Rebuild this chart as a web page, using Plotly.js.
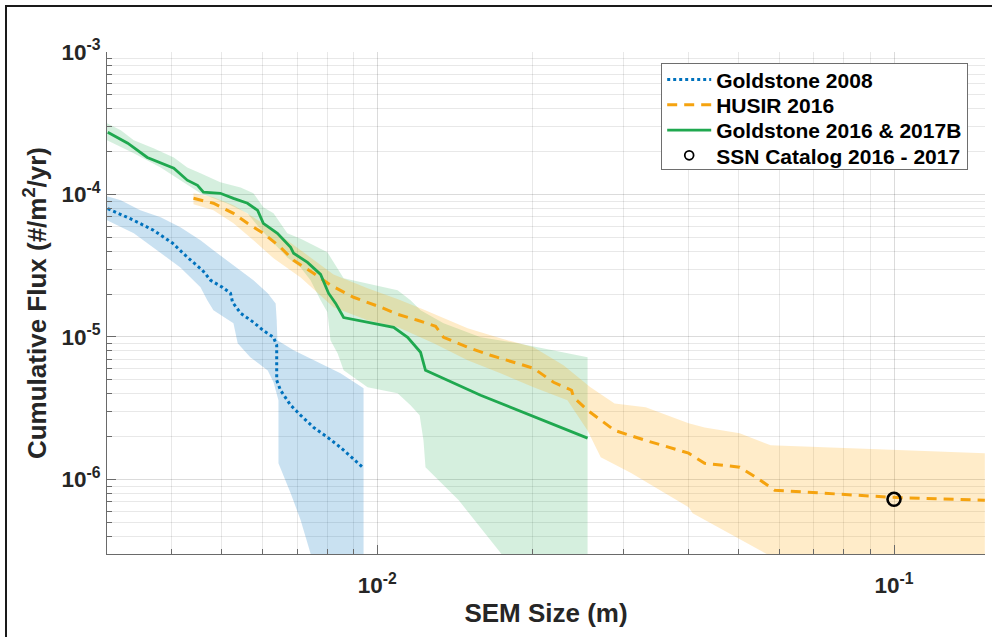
<!DOCTYPE html>
<html>
<head>
<meta charset="utf-8">
<script src="https://cdn.plot.ly/plotly-3.0.1.min.js"></script>
<style>
  html, body { margin: 0; padding: 0; background: #fff; }
  #wrap { position: relative; width: 992px; height: 637px; overflow: hidden; }
  #chart { width: 992px; height: 637px; }
  #frame { position: absolute; left: 5px; top: 5px; width: 1100px; height: 800px;
           border-left: 2px solid #1a1a1a; border-top: 2px solid #1a1a1a; pointer-events: none; }
</style>
</head>
<body>
<div id="wrap"><div id="chart"></div><div id="frame"></div></div>
<script>
// ---------- Data ----------
const seriesNames = ['Goldstone 2008', 'HUSIR 2016', 'Goldstone 2016 & 2017B', 'SSN Catalog 2016 - 2017'];

// Goldstone 2008 (blue dotted)
const gold08X = [0.00301,0.00338,0.00369,0.00402,0.00429,0.00459,0.00476,0.00502,0.00520,0.00525,0.00544,0.00576,0.00602,0.00630,0.00639,0.00639,0.00650,0.00680,0.00711,0.00753,0.00801,0.00849,0.00900,0.00941];
const gold08Y = [7.96e-5,6.59e-5,5.61e-5,4.55e-5,3.63e-5,2.94e-5,2.50e-5,2.23e-5,2.03e-5,1.75e-5,1.47e-5,1.27e-5,1.11e-5,9.95e-6,8.75e-6,4.97e-6,4.23e-6,3.32e-6,2.82e-6,2.32e-6,1.98e-6,1.68e-6,1.39e-6,1.20e-6];
const gold08UpX = [0.00300,0.00319,0.00348,0.00381,0.00416,0.00455,0.00482,0.00520,0.00576,0.00614,0.00636,0.00639,0.00641,0.00689,0.00777,0.00849,0.00941];
const gold08UpY = [9.71e-5,9.11e-5,7.74e-5,6.92e-5,5.89e-5,4.77e-5,4.06e-5,3.29e-5,2.50e-5,2.03e-5,1.72e-5,1.31e-5,9.48e-6,8.07e-6,6.54e-6,5.56e-6,4.36e-6];
const gold08LoX = [0.00300,0.00338,0.00381,0.00416,0.00455,0.00469,0.00482,0.00527,0.00537,0.00568,0.00614,0.00630,0.00644,0.00644,0.00680,0.00711,0.00743,0.00812,0.00941];
const gold08LoY = [6.59e-5,5.34e-5,3.87e-5,3.08e-5,2.23e-5,1.81e-5,1.54e-5,1.25e-5,9.03e-6,7.20e-6,5.83e-6,4.81e-6,3.60e-6,1.30e-6,8.00e-7,5.18e-7,3.03e-7,1.15e-7,2.3e-8];

// HUSIR 2016 (orange dashed)
const husirX = [0.00441,0.00482,0.00527,0.00561,0.00602,0.00650,0.00689,0.00753,0.00812,0.00900,0.01015,0.01097,0.01197,0.01297,0.01344,0.01496,0.01657,0.01836,0.02007,0.02194,0.02377,0.02399,0.02553,0.02880,0.03307,0.04005,0.04301,0.05028,0.05400,0.05877,0.06871,0.09899,0.1499];
const husirY = [9.40e-5,8.68e-5,7.38e-5,6.28e-5,5.34e-5,4.26e-5,3.45e-5,2.80e-5,2.31e-5,1.90e-5,1.62e-5,1.44e-5,1.31e-5,1.19e-5,9.95e-6,8.47e-6,7.44e-6,6.65e-6,6.03e-6,4.81e-6,4.23e-6,3.77e-6,3.06e-6,2.21e-6,1.88e-6,1.53e-6,1.30e-6,1.22e-6,1.04e-6,8.40e-7,8.13e-7,7.50e-7,7.14e-7];
const husirUpX = [0.00441,0.00482,0.00527,0.00576,0.00630,0.00711,0.00823,0.00958,0.01097,0.01229,0.01344,0.01496,0.01732,0.02007,0.02293,0.02586,0.02880,0.03307,0.04005,0.04301,0.05028,0.05771,0.1499];
const husirUpY = [1.02e-4,9.56e-5,8.40e-5,6.92e-5,5.61e-5,4.06e-5,2.75e-5,2.20e-5,1.84e-5,1.56e-5,1.35e-5,1.15e-5,9.79e-6,8.47e-6,6.33e-6,4.44e-6,3.42e-6,3.21e-6,2.48e-6,2.32e-6,2.11e-6,1.74e-6,1.53e-6];
const husirLoX = [0.00441,0.00482,0.00527,0.00576,0.00630,0.00711,0.00823,0.00958,0.01097,0.01286,0.01496,0.01732,0.02007,0.02334,0.02553,0.02707,0.03099,0.04005,0.04077,0.05680,0.1499];
const husirLoY = [8.53e-5,7.74e-5,6.28e-5,4.77e-5,3.57e-5,2.62e-5,1.62e-5,1.31e-5,1.17e-5,9.03e-6,6.86e-6,5.56e-6,4.44e-6,3.60e-6,2.21e-6,1.43e-6,1.11e-6,6.38e-7,5.79e-7,2.99e-7,4.2e-8];

// Goldstone 2016 & 2017B (green solid)
const gold16X = [0.00301,0.00329,0.00359,0.00404,0.00429,0.00449,0.00461,0.00497,0.00527,0.00561,0.00587,0.00602,0.00641,0.00680,0.00689,0.00733,0.00777,0.00805,0.00831,0.00861,0.01076,0.01145,0.01213,0.01240,0.01585,0.02553];
const gold16Y = [2.73e-4,2.29e-4,1.82e-4,1.53e-4,1.26e-4,1.16e-4,1.04e-4,1.02e-4,9.40e-5,8.68e-5,7.74e-5,6.28e-5,5.34e-5,4.26e-5,3.87e-5,3.34e-5,2.75e-5,2.03e-5,1.72e-5,1.37e-5,1.17e-5,9.95e-6,7.81e-6,5.84e-6,3.90e-6,1.95e-6];
const gold16UpX = [0.00300,0.00319,0.00338,0.00369,0.00404,0.00429,0.00455,0.00497,0.00544,0.00576,0.00602,0.00630,0.00670,0.00711,0.00753,0.00801,0.00861,0.01095,0.01160,0.01213,0.01344,0.01585,0.01870,0.02553];
const gold16UpY = [3.16e-4,2.82e-4,2.40e-4,2.11e-4,1.82e-4,1.55e-4,1.41e-4,1.22e-4,1.12e-4,1.02e-4,8.13e-5,7.38e-5,5.34e-5,4.90e-5,4.40e-5,3.93e-5,2.58e-5,2.13e-5,1.81e-5,1.54e-5,1.25e-5,9.95e-6,9.03e-6,7.20e-6];
const gold16LoX = [0.00300,0.00338,0.00381,0.00416,0.00455,0.00511,0.00561,0.00597,0.00630,0.00670,0.00711,0.00743,0.00777,0.00801,0.00812,0.00838,0.00861,0.00958,0.01095,0.01160,0.01208,0.01229,0.01240,0.01438,0.01741,0.02073,0.02553];
const gold16LoY = [2.40e-4,1.95e-4,1.55e-4,1.26e-4,1.02e-4,8.68e-5,7.38e-5,5.61e-5,4.54e-5,3.62e-5,3.08e-5,2.50e-5,1.81e-5,1.49e-5,9.48e-6,7.69e-6,5.84e-6,4.44e-6,4.03e-6,3.32e-6,2.82e-6,1.88e-6,1.22e-6,7.14e-7,2.99e-7,1.03e-7,2.83e-8];

// SSN Catalog 2016 - 2017 (single point)
const ssnX = [0.1];
const ssnY = [7.26e-7];

// Tick labels
const xTickVals = [0.01, 0.1];
const xTickText = ['10<sup>-2</sup>', '10<sup>-1</sup>'];
const yTickVals = [1e-6, 1e-5, 1e-4, 1e-3];
const yTickText = ['10<sup>-6</sup>', '10<sup>-5</sup>', '10<sup>-4</sup>', '10<sup>-3</sup>'];

// ---------- Styling ----------
const FONT = 'Liberation Sans, Arial, Helvetica, sans-serif';
const cBlue = '#0072BD', cOrange = '#F5A30F', cGreen = '#1FA84F';

function minorVals(d0, d1) {
  const out = [];
  for (let e = d0; e <= d1; e++) for (let m = 2; m <= 9; m++) out.push(m * Math.pow(10, e));
  return out;
}

function band(upX, upY, loX, loY, color) {
  return {
    x: upX.concat(loX.slice().reverse()),
    y: upY.concat(loY.slice().reverse()),
    type: 'scatter', mode: 'lines', fill: 'toself', fillcolor: color,
    line: {width: 0, color: 'rgba(0,0,0,0)'}, showlegend: false, hoverinfo: 'skip'
  };
}

const traces = [
  band(gold08UpX, gold08UpY, gold08LoX, gold08LoY, 'rgba(0,114,189,0.21)'),
  band(gold16UpX, gold16UpY, gold16LoX, gold16LoY, 'rgba(31,168,79,0.19)'),
  band(husirUpX, husirUpY, husirLoX, husirLoY, 'rgba(255,165,0,0.21)'),
  {x: gold08X, y: gold08Y, name: seriesNames[0], type: 'scatter', mode: 'lines',
   line: {color: cBlue, width: 3, dash: 'dot'}},
  {x: husirX, y: husirY, name: seriesNames[1], type: 'scatter', mode: 'lines',
   line: {color: cOrange, width: 3, dash: '10px,7px'}},
  {x: gold16X, y: gold16Y, name: seriesNames[2], type: 'scatter', mode: 'lines',
   line: {color: cGreen, width: 2.8}},
  {x: ssnX, y: ssnY, name: seriesNames[3], type: 'scatter', mode: 'markers',
   marker: {symbol: 'circle-open', size: 13, color: '#000', line: {width: 2.6, color: '#000'}}}
];

const axisCommon = {
  type: 'log', showline: true, linecolor: '#6a6a6a', linewidth: 1, mirror: false,
  ticks: 'inside', ticklen: 9, tickwidth: 1, tickcolor: '#6a6a6a',
  showgrid: true, gridcolor: 'rgba(0,0,0,0.14)', gridwidth: 1, zeroline: false,
  tickmode: 'array', automargin: false,
  tickfont: {family: FONT, size: 22.5, color: '#262626', weight: 'bold'}
};

const layout = {
  width: 992, height: 637,
  margin: {l: 107, r: 7, t: 52, b: 83, pad: 0},
  paper_bgcolor: '#fff', plot_bgcolor: '#fff',
  font: {family: FONT, color: '#262626'},
  showlegend: true,
  xaxis: Object.assign({}, axisCommon, {
    range: [Math.log10(0.003), Math.log10(0.15)],
    tickvals: xTickVals, ticktext: xTickText, ticklabelstandoff: 11,
    minor: {tickmode: 'array', tickvals: minorVals(-3, -1), ticks: 'inside', ticklen: 5,
            tickcolor: '#6a6a6a', showgrid: true, gridcolor: 'rgba(0,0,0,0.09)', gridwidth: 1},
    title: {text: 'SEM Size (m)', standoff: 6,
            font: {family: FONT, size: 26, color: '#262626', weight: 'bold'}}
  }),
  yaxis: Object.assign({}, axisCommon, {
    range: [Math.log10(3e-7), -3],
    tickvals: yTickVals, ticktext: yTickText, ticklabelstandoff: 1,
    minor: {tickmode: 'array', tickvals: minorVals(-7, -4), ticks: 'inside', ticklen: 5,
            tickcolor: '#6a6a6a', showgrid: true, gridcolor: 'rgba(0,0,0,0.09)', gridwidth: 1},
    title: {text: 'Cumulative Flux (#/m<sup>2</sup>/yr)', standoff: 7,
            font: {family: FONT, size: 26, color: '#262626', weight: 'bold'}}
  }),
  legend: {
    x: 0.6312, y: 0.9775, xanchor: 'left', yanchor: 'top',
    bgcolor: '#fff', bordercolor: '#6e6e6e', borderwidth: 1,
    font: {family: FONT, size: 21, color: '#000', weight: 'bold'},
    itemwidth: 44, tracegroupgap: 0
  }
};

const gd = document.getElementById('chart');
Plotly.newPlot(gd, traces, layout, {displayModeBar: false, staticPlot: true}).then(function () {
  // tighten legend rows to match the reference (about 25px per row, 106px box)
  const rows = gd.querySelectorAll('.legend .traces');
  if (rows.length < 2) return;
  const parse = t => { const m = /translate\(\s*([-\d.e]+)[ ,]+([-\d.e]+)\s*\)/.exec(t || ''); return m ? [parseFloat(m[1]), parseFloat(m[2])] : null; };
  const p0 = parse(rows[0].getAttribute('transform'));
  if (!p0) return;
  const newStep = 25.3, firstY = p0[1] - 5;
  rows.forEach(function (r, i) {
    const p = parse(r.getAttribute('transform'));
    if (p) r.setAttribute('transform', 'translate(' + p[0] + ',' + (firstY + i * newStep) + ')');
  });
  const bg = gd.querySelector('.legend rect.bg');
  if (bg) bg.setAttribute('height', 106);
  // smaller marker sample for the SSN entry, as in the reference legend
  const pt = rows[rows.length - 1].querySelector('path.scatterpts');
  if (pt) {
    const tr = pt.getAttribute('transform') || '';
    pt.setAttribute('transform', tr + ' scale(0.68)');
  }
});
</script>
</body>
</html>
